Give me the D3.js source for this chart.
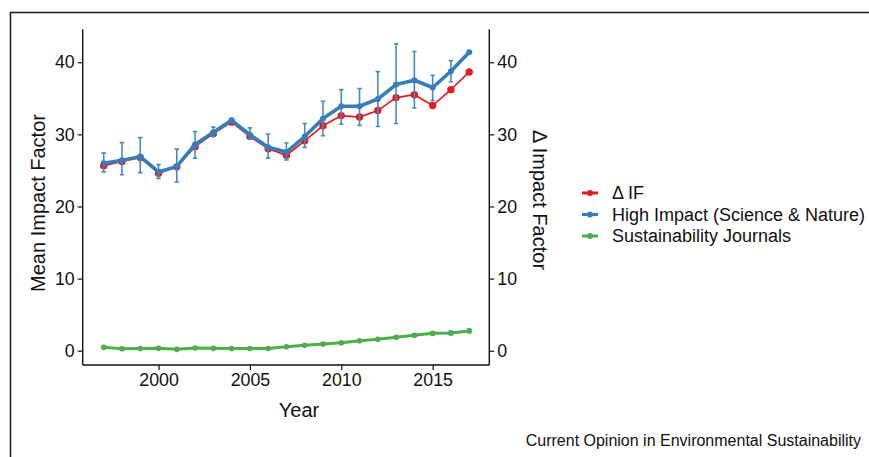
<!DOCTYPE html>
<html>
<head>
<meta charset="utf-8">
<script src="https://d3js.org/d3.v7.min.js"></script>
<style>
  body { margin: 0; background: #fff; }
  svg { display: block; }
  text { font-family: "Liberation Sans", Arial, Helvetica, sans-serif; fill: #111; }
</style>
</head>
<body>
<script>
// values
var years = [1997, 1998, 1999, 2000, 2001, 2002, 2003, 2004, 2005, 2006, 2007,
             2008, 2009, 2010, 2011, 2012, 2013, 2014, 2015, 2016, 2017];

var deltaIF = [25.65, 26.25, 26.8, 24.6, 25.5, 28.3, 30.1, 31.7, 29.7, 28.0, 27.1,
               29.1, 31.2, 32.6, 32.4, 33.3, 35.1, 35.5, 34.0, 36.2, 38.65];

var highImpact = [26.0, 26.4, 26.9, 24.8, 25.55, 28.6, 30.3, 31.95, 29.95, 28.2, 27.55,
                  29.7, 32.2, 33.9, 33.9, 34.9, 36.9, 37.5, 36.5, 38.75, 41.4];
var highLow = [24.8, 24.4, 24.7, 23.9, 23.4, 26.7, 29.7, 31.7, 29.35, 26.7, 26.45,
               28.2, 29.8, 31.4, 31.25, 31.1, 31.5, 33.65, 34.7, 37.3, 41.25];
var highHigh = [27.4, 28.85, 29.55, 25.8, 27.95, 30.4, 31.0, 32.2, 30.9, 30.05, 28.8,
                31.5, 34.6, 36.2, 36.35, 38.7, 42.55, 41.5, 38.2, 40.2, 41.55];

var sustain = [0.47, 0.28, 0.3, 0.35, 0.19, 0.37, 0.33, 0.3, 0.3, 0.3, 0.56,
               0.75, 0.93, 1.1, 1.39, 1.58, 1.86, 2.13, 2.41, 2.45, 2.74];
var sustainLow = [0.42, 0.24, 0.26, 0.31, 0.15, 0.33, 0.29, 0.26, 0.26, 0.26, 0.5,
                  0.68, 0.85, 1.0, 1.28, 1.47, 1.74, 1.98, 2.18, 2.2, 2.48];
var sustainHigh = [0.52, 0.32, 0.34, 0.39, 0.23, 0.41, 0.37, 0.34, 0.34, 0.34, 0.62,
                   0.82, 1.01, 1.2, 1.5, 1.69, 1.98, 2.28, 2.64, 2.7, 3.0];

var yTicks = [0, 10, 20, 30, 40];
var xTicks = [2000, 2005, 2010, 2015];

var seriesNames = ["\u0394 IF", "High Impact (Science & Nature)", "Sustainability Journals"];
var seriesColors = ["#e41a1c", "#377eb8", "#4daf4a"];

function draw() {
    var W = 869, H = 457;

    var svg = d3.select("body").append("svg")
        .attr("width", W)
        .attr("height", H);

    // outer frame (cut by the page edge on right and bottom)
    svg.append("rect")
        .attr("x", 10.5).attr("y", 12.5)
        .attr("width", W + 20).attr("height", H + 20)
        .attr("fill", "none")
        .attr("stroke", "#222")
        .attr("stroke-width", 1.6);

    var x = d3.scaleLinear()
        .domain([1995.85, 2018.1])
        .range([82.7, 489.3]);

    var y = d3.scaleLinear()
        .domain([-1.98, 44.57])
        .range([365, 29.3]);

    var rows = years.map(function(yr, i) {
        return {
            year: yr, d: deltaIF[i],
            h: highImpact[i], hl: highLow[i], hh: highHigh[i],
            s: sustain[i], sl: sustainLow[i], sh: sustainHigh[i]
        };
    });

    // axes
    var left = svg.append("g")
        .attr("transform", "translate(82.7,0)")
        .call(d3.axisLeft(y).tickValues(yTicks).tickSize(5).tickPadding(3));
    var right = svg.append("g")
        .attr("transform", "translate(489.3,0)")
        .call(d3.axisRight(y).tickValues(yTicks).tickSize(5).tickPadding(3));
    var bottom = svg.append("g")
        .attr("transform", "translate(0,365)")
        .call(d3.axisBottom(x).tickValues(xTicks).tickFormat(d3.format("d")).tickSize(5).tickPadding(3));

    [left, right, bottom].forEach(function(g) {
        g.select(".domain").remove();
        g.selectAll(".tick line").attr("stroke", "#111").attr("stroke-width", 1.2);
        g.selectAll(".tick text").style("font-size", "17.8px")
            .style("font-family", "'Liberation Sans', Arial, sans-serif").attr("fill", "#111");
    });
    // plain axis lines spanning the full panel
    svg.append("line").attr("x1", 82.7).attr("x2", 82.7).attr("y1", y.range()[1]).attr("y2", y.range()[0])
        .attr("stroke", "#111").attr("stroke-width", 1.4);
    svg.append("line").attr("x1", 489.3).attr("x2", 489.3).attr("y1", y.range()[1]).attr("y2", y.range()[0])
        .attr("stroke", "#111").attr("stroke-width", 1.4);
    svg.append("line").attr("x1", x.range()[0]).attr("x2", x.range()[1]).attr("y1", 365).attr("y2", 365)
        .attr("stroke", "#111").attr("stroke-width", 1.4);

    // green: sustainability journals
    var capW = 2.2;
    svg.append("g").selectAll("path")
        .data(rows).enter().append("path")
        .attr("d", function(r) {
            return "M" + (x(r.year) - capW) + "," + y(r.sh) + "H" + (x(r.year) + capW) +
                   "M" + x(r.year) + "," + y(r.sh) + "V" + y(r.sl) +
                   "M" + (x(r.year) - capW) + "," + y(r.sl) + "H" + (x(r.year) + capW);
        })
        .attr("fill", "none").attr("stroke", seriesColors[2]).attr("stroke-width", 1.5);

    svg.append("path")
        .datum(rows)
        .attr("fill", "none")
        .attr("stroke", seriesColors[2])
        .attr("stroke-width", 3)
        .attr("stroke-linejoin", "round")
        .attr("d", d3.line().x(function(r) { return x(r.year); }).y(function(r) { return y(r.s); }));

    svg.append("g").selectAll("circle")
        .data(rows).enter().append("circle")
        .attr("cx", function(r) { return x(r.year); })
        .attr("cy", function(r) { return y(r.s); })
        .attr("r", 2.8)
        .attr("fill", seriesColors[2]);

    // red: delta IF
    svg.append("path")
        .datum(rows)
        .attr("fill", "none")
        .attr("stroke", seriesColors[0])
        .attr("stroke-width", 1.7)
        .attr("d", d3.line().x(function(r) { return x(r.year); }).y(function(r) { return y(r.d); }));

    svg.append("g").selectAll("circle")
        .data(rows).enter().append("circle")
        .attr("cx", function(r) { return x(r.year); })
        .attr("cy", function(r) { return y(r.d); })
        .attr("r", 3.7)
        .attr("fill", seriesColors[0]);

    // blue: high impact with error bars
    svg.append("g").selectAll("path")
        .data(rows).enter().append("path")
        .attr("d", function(r) {
            return "M" + (x(r.year) - capW) + "," + y(r.hh) + "H" + (x(r.year) + capW) +
                   "M" + x(r.year) + "," + y(r.hh) + "V" + y(r.hl) +
                   "M" + (x(r.year) - capW) + "," + y(r.hl) + "H" + (x(r.year) + capW);
        })
        .attr("fill", "none").attr("stroke", "#4a8ac4").attr("stroke-width", 1.6);

    svg.append("path")
        .datum(rows)
        .attr("fill", "none")
        .attr("stroke", seriesColors[1])
        .attr("stroke-width", 3.6)
        .attr("stroke-linejoin", "round")
        .attr("d", d3.line().x(function(r) { return x(r.year); }).y(function(r) { return y(r.h); }));

    svg.append("g").selectAll("circle")
        .data(rows).enter().append("circle")
        .attr("cx", function(r) { return x(r.year); })
        .attr("cy", function(r) { return y(r.h); })
        .attr("r", 3)
        .attr("fill", seriesColors[1]);

    // axis titles
    svg.append("text")
        .attr("transform", "translate(45,203) rotate(-90)")
        .attr("text-anchor", "middle")
        .style("font-size", "20px")
        .text("Mean Impact Factor");

    svg.append("text")
        .attr("transform", "translate(533,200) rotate(90)")
        .attr("text-anchor", "middle")
        .style("font-size", "20px")
        .text("\u0394 Impact Factor");

    svg.append("text")
        .attr("x", 299).attr("y", 417)
        .attr("text-anchor", "middle")
        .style("font-size", "20px")
        .text("Year");

    // legend
    var legend = svg.append("g").attr("transform", "translate(582,193)");
    seriesNames.forEach(function(name, i) {
        var g = legend.append("g").attr("transform", "translate(0," + (i * 21.5) + ")");
        g.append("line").attr("x1", 0).attr("x2", 16).attr("y1", 0).attr("y2", 0)
            .attr("stroke", seriesColors[i]).attr("stroke-width", 3);
        g.append("circle").attr("cx", 8).attr("cy", 0).attr("r", 3).attr("fill", seriesColors[i]);
        g.append("text").attr("x", 30).attr("y", 0).attr("dy", "0.35em")
            .style("font-size", "18px")
            .text(name);
    });

    // source caption
    svg.append("text")
        .attr("x", 861).attr("y", 446)
        .attr("text-anchor", "end")
        .style("font-size", "16px")
        .text("Current Opinion in Environmental Sustainability");
}

draw();
</script>
</body>
</html>
